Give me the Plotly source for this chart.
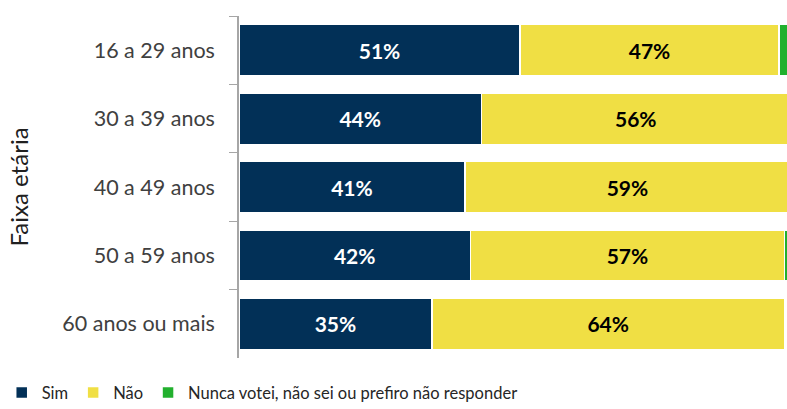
import plotly.graph_objects as go

categories = ["16 a 29 anos", "30 a 39 anos", "40 a 49 anos", "50 a 59 anos", "60 anos ou mais"]
sim = [51, 44, 41, 42, 35]
nao = [47, 56, 59, 57, 64]
nunca = [2, 0, 0, 1, 0]
series_names = ["Sim", "Não", "Nunca votei, não sei ou prefiro não responder"]
colors = ["#023057", "#F0DF44", "#22B02E"]
text_colors = ["white", "black", "black"]

FONT = "Lato"

fig = go.Figure()
for name, vals, col, tcol, show in zip(series_names, [sim, nao, nunca], colors, text_colors, [True, True, False]):
    fig.add_trace(go.Bar(
        y=categories, x=vals, name=name, orientation="h",
        marker=dict(color=col, line=dict(color="white", width=1.5)),
        text=[f"{v}%" for v in vals] if show else None,
        textposition="inside" if show else "none",
        insidetextanchor="middle",
        textfont=dict(family=FONT, size=21, color=tcol, weight="bold"),
        hoverinfo="skip",
    ))

fig.update_layout(
    width=787, height=409,
    barmode="stack", bargap=0.25,
    margin=dict(l=239, r=0, t=16, b=51, autoexpand=False),
    paper_bgcolor="white", plot_bgcolor="white",
    font=dict(family=FONT, color="#404040"),
    uniformtext=dict(mode="show", minsize=10),
    legend=dict(orientation="h", x=-0.433, xanchor="left", y=-0.102, yanchor="middle",
                font=dict(family=FONT, size=16.5, color="#262626"), itemwidth=30,
                traceorder="normal"),
    xaxis=dict(range=[0, 99.45], visible=False, fixedrange=True),
    yaxis=dict(autorange="reversed", showline=True, linecolor="#A6A6A6", linewidth=1.5,
               ticks="outside", tickson="boundaries", ticklen=8, tickcolor="#A6A6A6",
               tickfont=dict(family=FONT, size=21.5, color="#404040"),
               ticklabelstandoff=18, fixedrange=True,
               title=dict(text="Faixa etária", font=dict(family=FONT, size=24, color="#202020"), standoff=27),
               showgrid=False),
)

# remove the default 8px page margin so the 787x409 figure fills the window exactly
fig.write_html("out.html", config={"displayModeBar": False},
               post_script="document.body.style.margin='0';")
